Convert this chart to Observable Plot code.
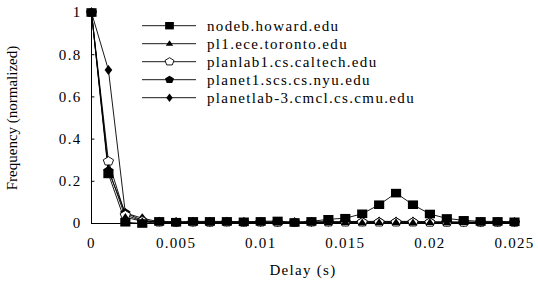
<!DOCTYPE html>
<html>
<head>
<meta charset="utf-8">
<script src="https://cdn.jsdelivr.net/npm/d3@7"></script>
<script src="https://cdn.jsdelivr.net/npm/@observablehq/plot@0.6"></script>
<style>
  html, body { margin: 0; padding: 0; background: #fff; }
  #wrap { position: relative; width: 538px; height: 283px; }
  #wrap svg text { font-family: "Liberation Serif", "Times New Roman", serif; }
  #legend { position: absolute; left: 0; top: 0; }
</style>
</head>
<body>
<div id="wrap"></div>
<script>
// ---- data ----
const delay = [0, 0.001, 0.002, 0.003, 0.004, 0.005, 0.006, 0.007, 0.008, 0.009, 0.010, 0.011, 0.012,
  0.013, 0.014, 0.015, 0.016, 0.017, 0.018, 0.019, 0.020, 0.021, 0.022, 0.023, 0.024, 0.025];
const hosts = ["nodeb.howard.edu", "pl1.ece.toronto.edu", "planlab1.cs.caltech.edu", "planet1.scs.cs.nyu.edu", "planetlab-3.cmcl.cs.cmu.edu"];
const howard  = [1, 0.235, 0.006, 0.0, 0.01, 0.006, 0.01, 0.01, 0.01, 0.008, 0.01, 0.012, 0.005, 0.01, 0.02, 0.025, 0.046, 0.089, 0.144, 0.089, 0.045, 0.024, 0.015, 0.01, 0.01, 0.008];
const toronto = [1, 0.26, 0.03, 0.01, 0.006, 0.005, 0.005, 0.004, 0.005, 0.004, 0.005, 0.004, 0.004, 0.005, 0.004, 0.005, 0.004, 0.005, 0.005, 0.004, 0.005, 0.004, 0.005, 0.004, 0.004, 0.004];
const caltech = [1, 0.295, 0.04, 0.012, 0.006, 0.005, 0.006, 0.005, 0.006, 0.005, 0.006, 0.005, 0.005, 0.006, 0.006, 0.006, 0.006, 0.006, 0.006, 0.006, 0.005, 0.005, 0.005, 0.005, 0.005, 0.005];
const nyu     = [1, 0.25, 0.05, 0.015, 0.008, 0.007, 0.007, 0.006, 0.007, 0.006, 0.007, 0.006, 0.006, 0.007, 0.007, 0.007, 0.008, 0.008, 0.008, 0.008, 0.007, 0.007, 0.006, 0.006, 0.006, 0.006];
const cmu     = [1, 0.728, 0.05, 0.025, 0.008, 0.006, 0.007, 0.006, 0.008, 0.007, 0.007, 0.006, 0.006, 0.007, 0.008, 0.009, 0.01, 0.01, 0.01, 0.01, 0.008, 0.007, 0.006, 0.006, 0.006, 0.006];
const xTicks = [0, 0.005, 0.01, 0.015, 0.02, 0.025];
const xTickLabels = ["0", "0.005", "0.01", "0.015", "0.02", "0.025"];
const yTicks = [0, 0.2, 0.4, 0.6, 0.8, 1];
const yTickLabels = ["0", "0.2", "0.4", "0.6", "0.8", "1"];

// ---- symbols (slightly wide, like the reference) ----
const AX = 1.18;
function rOf(size) { return Math.sqrt(size / Math.PI); }
const symSquare = { draw(c, size) { const r = rOf(size); c.rect(-r * AX, -r, 2 * r * AX, 2 * r); } };
const symTriangle = { draw(c, size) { const r = rOf(size); c.moveTo(0, -r); c.lineTo(r * 0.9 * AX, r * 0.6); c.lineTo(-r * 0.9 * AX, r * 0.6); c.closePath(); } };
const symPentagon = { draw(c, size) { const r = rOf(size);
  for (let i = 0; i < 5; i++) { const a = -Math.PI / 2 + i * 2 * Math.PI / 5; const px = r * AX * Math.cos(a), py = r * Math.sin(a); if (i) c.lineTo(px, py); else c.moveTo(px, py); }
  c.closePath(); } };
const symDiamond = { draw(c, size) { const r = rOf(size); c.moveTo(0, -r); c.lineTo(r * 0.65 * AX, 0); c.lineTo(0, r); c.lineTo(-r * 0.65 * AX, 0); c.closePath(); } };

const series = [
  {name: hosts[4], values: cmu, symbol: symDiamond, r: 5, lr: 4.2, fill: "black"},
  {name: hosts[3], values: nyu, symbol: symPentagon, r: 4.6, lr: 4, fill: "black"},
  {name: hosts[2], values: caltech, symbol: symPentagon, r: 4.6, lr: 4, fill: "white"},
  {name: hosts[1], values: toronto, symbol: symTriangle, r: 4.2, lr: 3.5, fill: "black"},
  {name: hosts[0], values: howard, symbol: symSquare, r: 4.3, lr: 3.7, fill: "black"}
];

const serif = "'Liberation Serif', 'Times New Roman', serif";
const marks = [
  Plot.ruleX([0], {stroke: "black", strokeWidth: 1}),
  Plot.ruleY([0], {stroke: "black", strokeWidth: 1}),
  Plot.ruleY(yTicks, {y: d => d, x1: 0, x2: 0.0002, stroke: "black", strokeWidth: 1}),
  Plot.axisY({ticks: yTicks, tickSize: 0, tickPadding: 10, tickFormat: (d, i) => yTickLabels[i], fontSize: 15,
    label: "Frequency (normalized)", labelAnchor: "center", labelArrow: "none", labelOffset: 85}),
  Plot.axisX({ticks: xTicks, tickSize: 0, tickPadding: 14, tickFormat: (d, i) => xTickLabels[i], fontSize: 15,
    label: "Delay (s)", labelAnchor: "center", labelArrow: "none", labelOffset: 51})
];
for (const s of series) {
  const data = delay.map((d, i) => ({x: d, y: s.values[i]}));
  marks.push(Plot.line(data, {x: "x", y: "y", stroke: "black", strokeWidth: 0.9}));
}
for (const s of series) {
  const data = delay.map((d, i) => ({x: d, y: s.values[i]}));
  marks.push(Plot.dot(data, {x: "x", y: "y", symbol: s.symbol, r: s.r, fill: s.fill, stroke: s.fill === "white" ? "black" : "none", strokeWidth: 0.9}));
}

const chart = Plot.plot({
  width: 538, height: 283,
  marginLeft: 91, marginRight: 24, marginTop: 12, marginBottom: 60,
  style: {fontFamily: serif, fontSize: "15px", color: "black", background: "white", overflow: "visible"},
  x: {domain: [0, 0.025]},
  y: {domain: [0, 1]},
  marks
});
const wrap = document.getElementById("wrap");
wrap.appendChild(chart);

// the reference is horizontally stretched: widen horizontal text a little
d3.select(chart).selectAll("text").each(function () {
  const t = (this.getAttribute("transform") || "") + (this.parentNode.getAttribute("transform") || "");
  if (!/rotate/.test(t)) this.style.letterSpacing = "1.3px";
});

// ---- legend (real text) ----
const order = [...series].reverse();
const leg = d3.select(wrap).append("svg").attr("id", "legend").attr("width", 538).attr("height", 120)
  .style("overflow", "visible");
order.forEach((s, i) => {
  const g = leg.append("g").attr("transform", `translate(142, ${25.7 + i * 18})`);
  g.append("line").attr("x1", 0).attr("x2", 54).attr("y1", 0).attr("y2", 0).attr("stroke", "black").attr("stroke-width", 0.9);
  const p = d3.path();
  s.symbol.draw(p, Math.PI * s.lr * s.lr);
  g.append("path").attr("d", p.toString()).attr("transform", "translate(27.5,0)")
    .attr("fill", s.fill).attr("stroke", s.fill === "white" ? "black" : "none").attr("stroke-width", 0.9);
  g.append("text").attr("x", 65).attr("y", 0).attr("dy", "0.32em").attr("font-size", 15)
    .style("letter-spacing", "1.35px").attr("fill", "black").text(s.name);
});
</script>
</body>
</html>
